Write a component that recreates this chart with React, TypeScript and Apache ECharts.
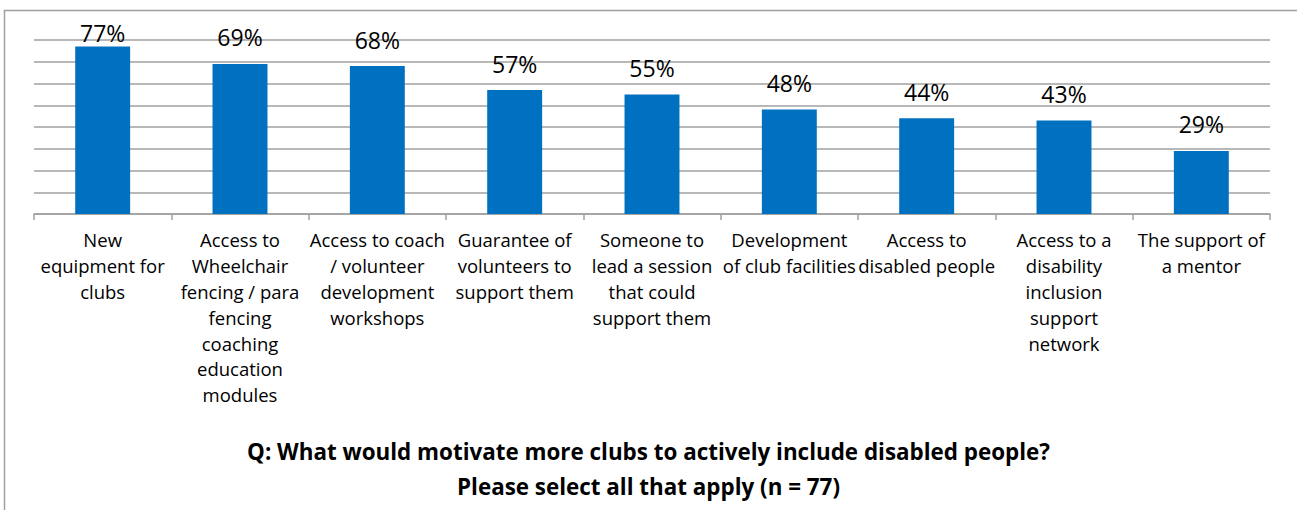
import React, { useEffect, useRef } from "react";
import * as echarts from "echarts";

const categories: string[] = [
  "New\nequipment for\nclubs",
  "Access to\nWheelchair\nfencing / para\nfencing\ncoaching\neducation\nmodules",
  "Access to coach\n/ volunteer\ndevelopment\nworkshops",
  "Guarantee of\nvolunteers to\nsupport them",
  "Someone to\nlead a session\nthat could\nsupport them",
  "Development\nof club facilities",
  "Access to\ndisabled people",
  "Access to a\ndisability\ninclusion\nsupport\nnetwork",
  "The support of\na mentor",
];
const values: number[] = [77, 69, 68, 57, 55, 48, 44, 43, 29];
const titleLines: string[] = [
  "Q: What would motivate more clubs to actively include disabled people?",
  "Please select all that apply (n = 77)",
];

export default function App() {
  const ref = useRef<HTMLDivElement>(null);
  useEffect(() => {
    if (!ref.current) return;
    const chart = echarts.init(ref.current, undefined, { renderer: "svg" });
    const font = "'Open Sans', sans-serif";
    const labelMinTop = 21;
    chart.setOption({
      animation: false,
      textStyle: { fontFamily: font },
      title: {
        text: titleLines.join("\n"),
        left: "center",
        top: 434,
        padding: 0,
        textStyle: {
          fontFamily: font,
          fontSize: 22.4,
          fontWeight: "bold",
          color: "#000",
          lineHeight: 35,
        },
      },
      graphic: [
        {
          type: "rect",
          shape: { x: 4.5, y: 10.5, width: 1400, height: 600 },
          style: { fill: "none", stroke: "#a0a0a0", lineWidth: 1.5 },
          silent: true,
        },
      ],
      grid: { left: 34, right: 27, top: 40, bottom: 296 },
      xAxis: {
        type: "category",
        data: categories,
        axisLine: { show: true, lineStyle: { color: "#a0a0a0", width: 1.5 } },
        axisTick: { show: true, length: 6, lineStyle: { color: "#a0a0a0", width: 1.5 } },
        axisLabel: {
          interval: 0,
          margin: 13,
          fontFamily: font,
          fontSize: 18.5,
          lineHeight: 25.8,
          color: "#000",
          align: "center",
        },
      },
      yAxis: {
        type: "value",
        min: 0,
        max: 80,
        interval: 10,
        axisLabel: { show: false },
        axisLine: { show: false },
        axisTick: { show: false },
        splitLine: { lineStyle: { color: "#a0a0a0", width: 1.5 } },
      },
      series: [
        {
          type: "bar",
          data: values,
          barWidth: "40%",
          itemStyle: { color: "#0070C0" },
          label: {
            show: true,
            position: "top",
            distance: 15,
            formatter: "{c}%",
            fontFamily: font,
            fontSize: 23,
            color: "#000",
          },
          labelLayout: (params: any) => {
            const r = params.labelRect;
            if (r.y < labelMinTop) {
              return {
                x: r.x + r.width / 2,
                y: labelMinTop,
                align: "center",
                verticalAlign: "top",
              };
            }
            return {};
          },
        },
      ],
    });
    return () => chart.dispose();
  }, []);
  return (
    <div
      ref={ref}
      style={{ position: "absolute", left: 0, top: 0, width: 1297, height: 510 }}
    />
  );
}
